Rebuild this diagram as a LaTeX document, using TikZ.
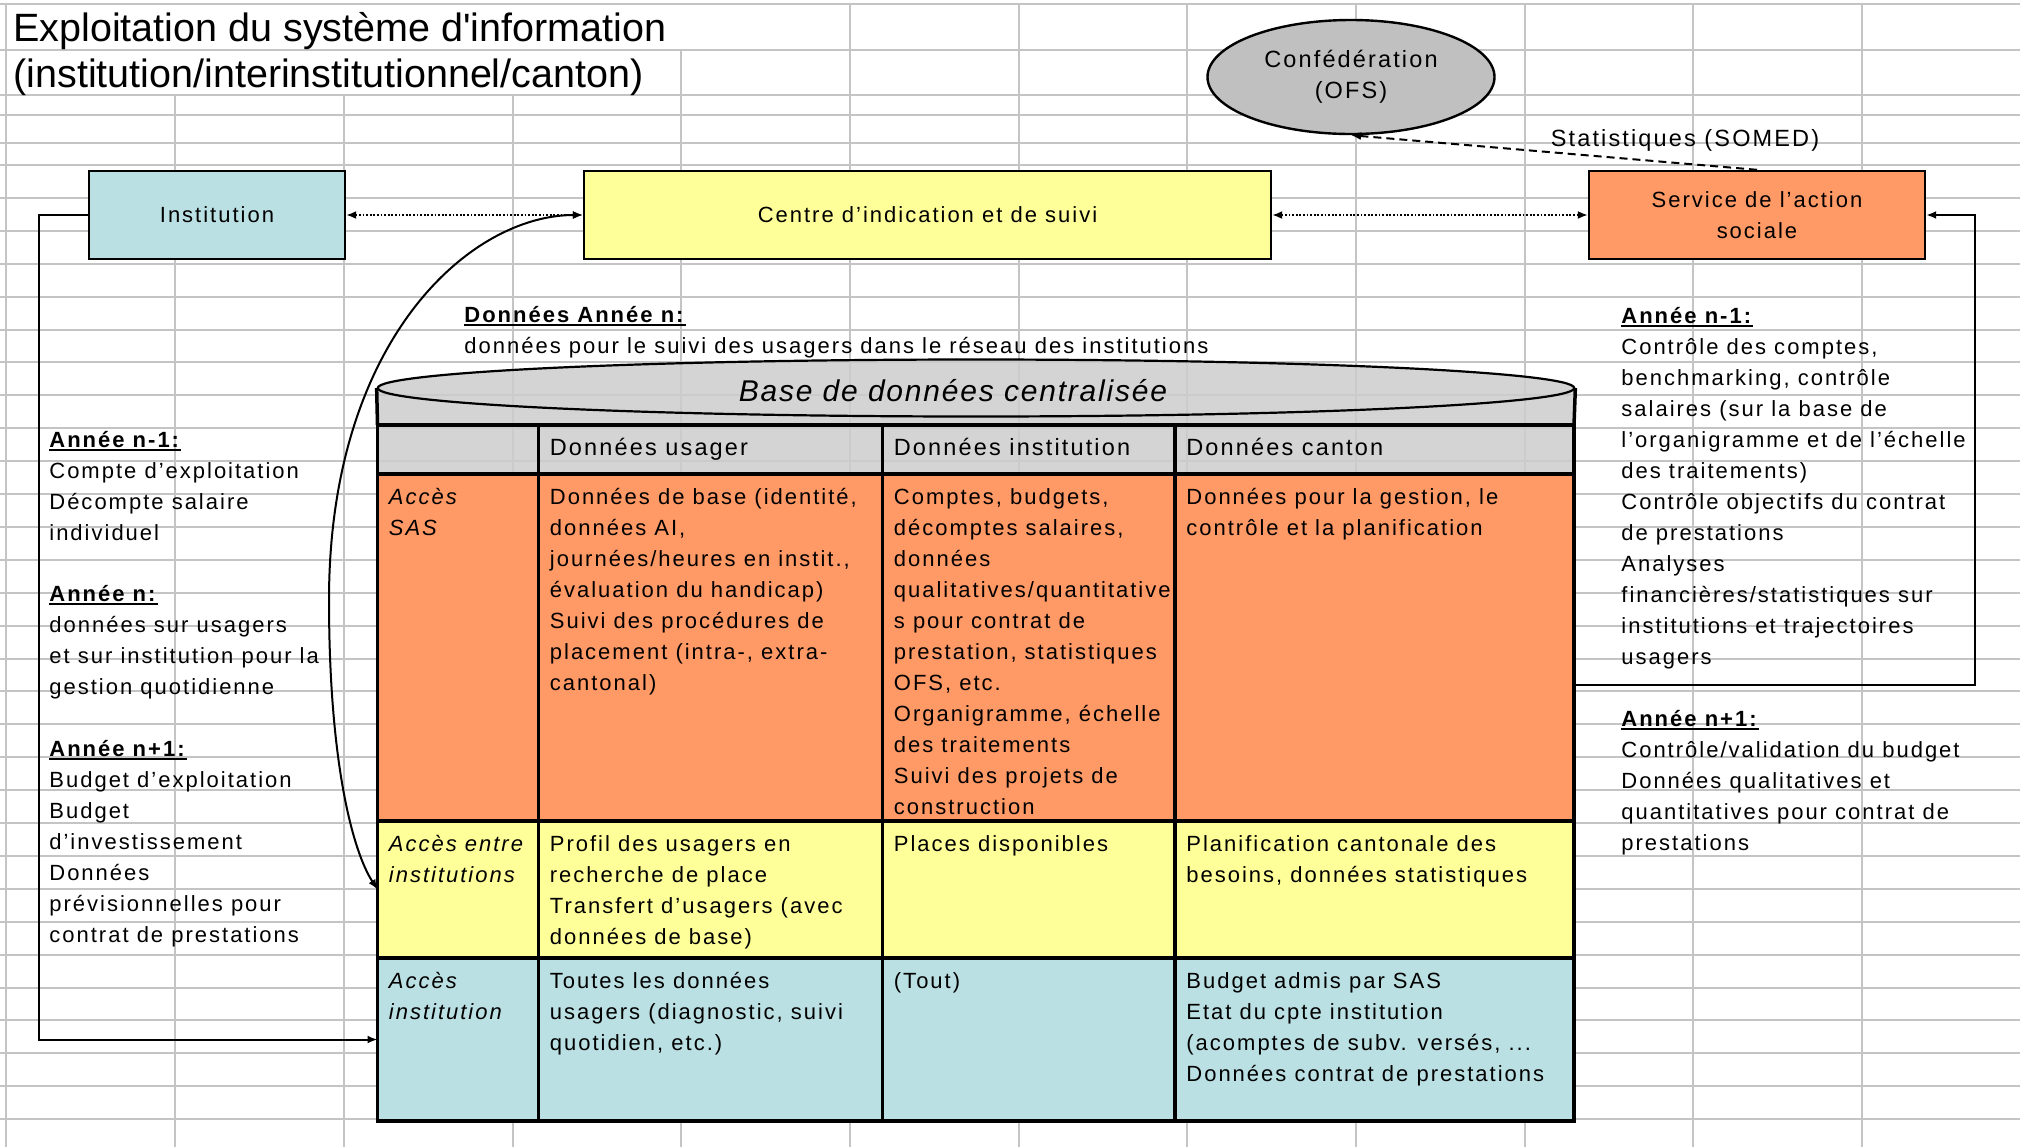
\documentclass[tikz,border=0pt]{standalone}
\usepackage{fontspec}
\setmainfont{Liberation Sans}[LetterSpace=9.1]
\usetikzlibrary{arrows.meta,shapes.geometric,calc}
\definecolor{gridc}{RGB}{196,196,196}
\definecolor{instc}{RGB}{187,224,227}
\definecolor{yelc}{RGB}{255,255,153}
\definecolor{orac}{RGB}{255,153,102}
\definecolor{ofsc}{RGB}{192,192,192}
\definecolor{dbc}{RGB}{205,205,205}
\newcommand\fbody{\fontsize{11pt}{15.5pt}\selectfont}
\newcommand\fhead{\fontsize{11.75pt}{15.5pt}\selectfont}
\newcommand\ftitle{\fontsize{19.75pt}{23pt}\selectfont\addfontfeature{LetterSpace=0}}
\newcommand\fbase{\fontsize{15pt}{18pt}\selectfont\itshape\addfontfeature{LetterSpace=6}}
\newcommand\hdg[1]{\setbox0\hbox{\textbf{#1}}\rlap{\rule[-1.8pt]{\wd0}{0.9pt}}\box0}
\newcommand\sq{\XeTeXglyph\XeTeXglyphindex "quotesingle"\relax}
\begin{document}
\begin{tikzpicture}[x=0.5pt,y=-0.5pt,
  >={Latex[length=5pt,width=4pt]},
  gridline/.style={gridc,line width=1pt},
  box/.style={draw,line width=1.2pt,inner sep=0pt,align=center,font=\fbody},
  cell/.style={draw,line width=1.75pt,inner sep=0pt,outer sep=0pt,anchor=north west},
  ctext/.style={anchor=north west,inner sep=0pt,align=left,font=\fbody},
  htext/.style={anchor=north west,inner sep=0pt,align=left,font=\fhead},
  free/.style={anchor=north west,inner sep=0pt,align=left,font=\fbody},
  conn/.style={line width=1pt},
  dotconn/.style={line width=0.9pt,dash pattern=on 0.9pt off 0.9pt},
  dashconn/.style={line width=1pt,dash pattern=on 4pt off 2.5pt}
]
\fill[white] (0,0) rectangle (2020,1147);
\useasboundingbox (0,0) rectangle (2020,1147);
% spreadsheet grid
\draw[gridline] (6.4,4) -- (6.4,1147);
\foreach \xx in {175.1,343.8,512.5} \draw[gridline] (\xx,95) -- (\xx,1147);
\draw[gridline] (681.2,50) -- (681.2,1147);
\foreach \xx in {849.9,1018.6,1187.3,1356,1524.7,1693.4,1862.1} \draw[gridline] (\xx,4) -- (\xx,1147);
\foreach \yy in {4,50,95,115,143} \draw[gridline] (0,\yy) -- (2020,\yy);
\foreach \k in {0,...,29} \draw[gridline] (0,{165+32.9*\k}) -- (2020,{165+32.9*\k});

% title
\node[anchor=base west,inner sep=0pt,font=\ftitle] (t1) at (13,41) {Exploitation du système d\sq information};
\node[anchor=base west,inner sep=0pt,font=\ftitle] (t2) at (13,87.5) {(institution/interinstitutionnel/canton)};

% top boxes
\node[box,fill=instc,minimum width=128pt,minimum height=44pt] (inst) at (217,215) {Institution};
\node[box,fill=yelc,minimum width=343.5pt,minimum height=44pt] (centre) at (927.5,215) {Centre d’indication et de suivi};
\node[box,fill=orac,minimum width=168pt,minimum height=44pt] (serv) at (1757,215) {Service de l’action\\sociale};
\node[box,ellipse,fill=ofsc,minimum width=143.5pt,minimum height=57pt,font=\fhead] (ofs) at (1351,77) {Confédération\\(OFS)};
\node[inner sep=0pt,font=\fhead] (stat) at (1685,140) {Statistiques (SOMED)};

% cylinder top
\fill[dbc,fill opacity=0.85] (377.5,425) -- (377.5,388) .. controls (377.5,372.3) and (645.7,359.5) .. (976,359.5) .. controls (1306.3,359.5) and (1574,372.3) .. (1574,388) -- (1574,425) -- cycle;
\node[draw,ellipse,line width=1.1pt,minimum width=598.25pt,minimum height=28.5pt,inner sep=0pt] (dbtop) at (976,388) {};
\node[inner sep=0pt,font=\fbase] (dblabel) at (953,391) {Base de données centralisée};

% table cells
\node[cell,fill=dbc,fill opacity=0.85,minimum width=80.5pt,minimum height=24.5pt] (h0) at (377.5,425) {};
\node[cell,fill=dbc,fill opacity=0.85,minimum width=172pt,minimum height=24.5pt] (h1) at (538.5,425) {};
\node[cell,fill=dbc,fill opacity=0.85,minimum width=146.25pt,minimum height=24.5pt] (h2) at (882.5,425) {};
\node[cell,fill=dbc,fill opacity=0.85,minimum width=199.5pt,minimum height=24.5pt] (h3) at (1175,425) {};
\node[cell,fill=orac,minimum width=80.5pt,minimum height=173.5pt] (s0) at (377.5,474) {};
\node[cell,fill=orac,minimum width=172pt,minimum height=173.5pt] (s1) at (538.5,474) {};
\node[cell,fill=orac,minimum width=146.25pt,minimum height=173.5pt] (s2) at (882.5,474) {};
\node[cell,fill=orac,minimum width=199.5pt,minimum height=173.5pt] (s3) at (1175,474) {};
\node[cell,fill=yelc,minimum width=80.5pt,minimum height=68.5pt] (e0) at (377.5,821) {};
\node[cell,fill=yelc,minimum width=172pt,minimum height=68.5pt] (e1) at (538.5,821) {};
\node[cell,fill=yelc,minimum width=146.25pt,minimum height=68.5pt] (e2) at (882.5,821) {};
\node[cell,fill=yelc,minimum width=199.5pt,minimum height=68.5pt] (e3) at (1175,821) {};
\node[cell,fill=instc,minimum width=80.5pt,minimum height=81.5pt] (i0) at (377.5,958) {};
\node[cell,fill=instc,minimum width=172pt,minimum height=81.5pt] (i1) at (538.5,958) {};
\node[cell,fill=instc,minimum width=146.25pt,minimum height=81.5pt] (i2) at (882.5,958) {};
\node[cell,fill=instc,minimum width=199.5pt,minimum height=81.5pt] (i3) at (1175,958) {};
\draw[line width=1.75pt] (dbtop.west) -- (h0.north west);
\draw[line width=1.75pt] (dbtop.east) -- (h3.north east);

% cell texts
\node[htext] (h1t) at ($(h1.north west)+(11,8.5)$) {\strut Données usager};
\node[htext] (h2t) at ($(h2.north west)+(11,8.5)$) {\strut Données institution};
\node[htext] (h3t) at ($(h3.north west)+(11,8.5)$) {\strut Données canton};
\node[ctext,font=\fbody\itshape] (s0t) at ($(s0.north west)+(11,8.5)$) {\strut Accès\\SAS};
\node[ctext] (s1t) at ($(s1.north west)+(11,8.5)$) {\strut Données de base (identité,\\données AI,\\journées/heures en instit.,\\évaluation du handicap)\\Suivi des procédures de\\placement (intra-, extra-\\cantonal)};
\node[ctext] (s2t) at ($(s2.north west)+(11,8.5)$) {\strut Comptes, budgets,\\décomptes salaires,\\données\\qualitatives/quantitative\\s pour contrat de\\prestation, statistiques\\OFS, etc.\\Organigramme, échelle\\des traitements\\Suivi des projets de\\construction};
\node[ctext] (s3t) at ($(s3.north west)+(11,8.5)$) {\strut Données pour la gestion, le\\contrôle et la planification};
\node[ctext,font=\fbody\itshape] (e0t) at ($(e0.north west)+(11,8.5)$) {\strut Accès entre\\institutions};
\node[ctext] (e1t) at ($(e1.north west)+(11,8.5)$) {\strut Profil des usagers en\\recherche de place\\Transfert d’usagers (avec\\données de base)};
\node[ctext] (e2t) at ($(e2.north west)+(11,8.5)$) {\strut Places disponibles};
\node[ctext] (e3t) at ($(e3.north west)+(11,8.5)$) {\strut Planification cantonale des\\besoins, données statistiques};
\node[ctext,font=\fbody\itshape] (i0t) at ($(i0.north west)+(11,8.5)$) {\strut Accès\\institution};
\node[ctext] (i1t) at ($(i1.north west)+(11,8.5)$) {\strut Toutes les données\\usagers (diagnostic, suivi\\quotidien, etc.)};
\node[ctext] (i2t) at ($(i2.north west)+(11,8.5)$) {\strut (Tout)};
\node[ctext] (i3t) at ($(i3.north west)+(11,8.5)$) {\strut Budget admis par SAS\\Etat du cpte institution\\(acomptes de subv. versés, ...\\Données contrat de prestations};

% free text blocks
\node[free] (dan) at (464,300) {\strut\hdg{Données Année n:}\\données pour le suivi des usagers dans le réseau des institutions};
\node[free] (la) at (49,425) {\strut\hdg{Année n-1:}\\Compte d’exploitation\\Décompte salaire\\individuel};
\node[free] (lb) at (49,579.5) {\strut\hdg{Année n:}\\données sur usagers\\et sur institution pour la\\gestion quotidienne};
\node[free] (lc) at (49,734) {\strut\hdg{Année n+1:}\\Budget d’exploitation\\Budget\\d’investissement\\Données\\prévisionnelles pour\\contrat de prestations};
\node[free] (ra) at (1621,301) {\strut\hdg{Année n-1:}\\Contrôle des comptes,\\benchmarking, contrôle\\salaires (sur la base de\\l’organigramme et de l’échelle\\des traitements)\\Contrôle objectifs du contrat\\de prestations\\Analyses\\financières/statistiques sur\\institutions et trajectoires\\usagers};
\node[free] (rb) at (1621,704.5) {\strut\hdg{Année n+1:}\\Contrôle/validation du budget\\Données qualitatives et\\quantitatives pour contrat de\\prestations};

% connectors
\coordinate (lrail) at (39,215);
\coordinate (sasR) at (1574,685);
\coordinate (rrail) at (1975,685);
\draw[dotconn,<->] (inst.east) -- (centre.west);
\draw[dotconn,<->] (centre.east) -- (serv.west);
\draw[dashconn,->] (serv.north) -- (ofs.south);
\draw[conn,->] (inst.west) -- (lrail) |- (i0.west);
\draw[line width=1.4pt,->] (sasR) -- (rrail) |- (serv.east);
\draw[conn,<->] (centre.west) .. controls (470,215) and (329,340) .. (329,600) .. controls (329,760) and (352,850) .. (e0.west);
\end{tikzpicture}
\end{document}
